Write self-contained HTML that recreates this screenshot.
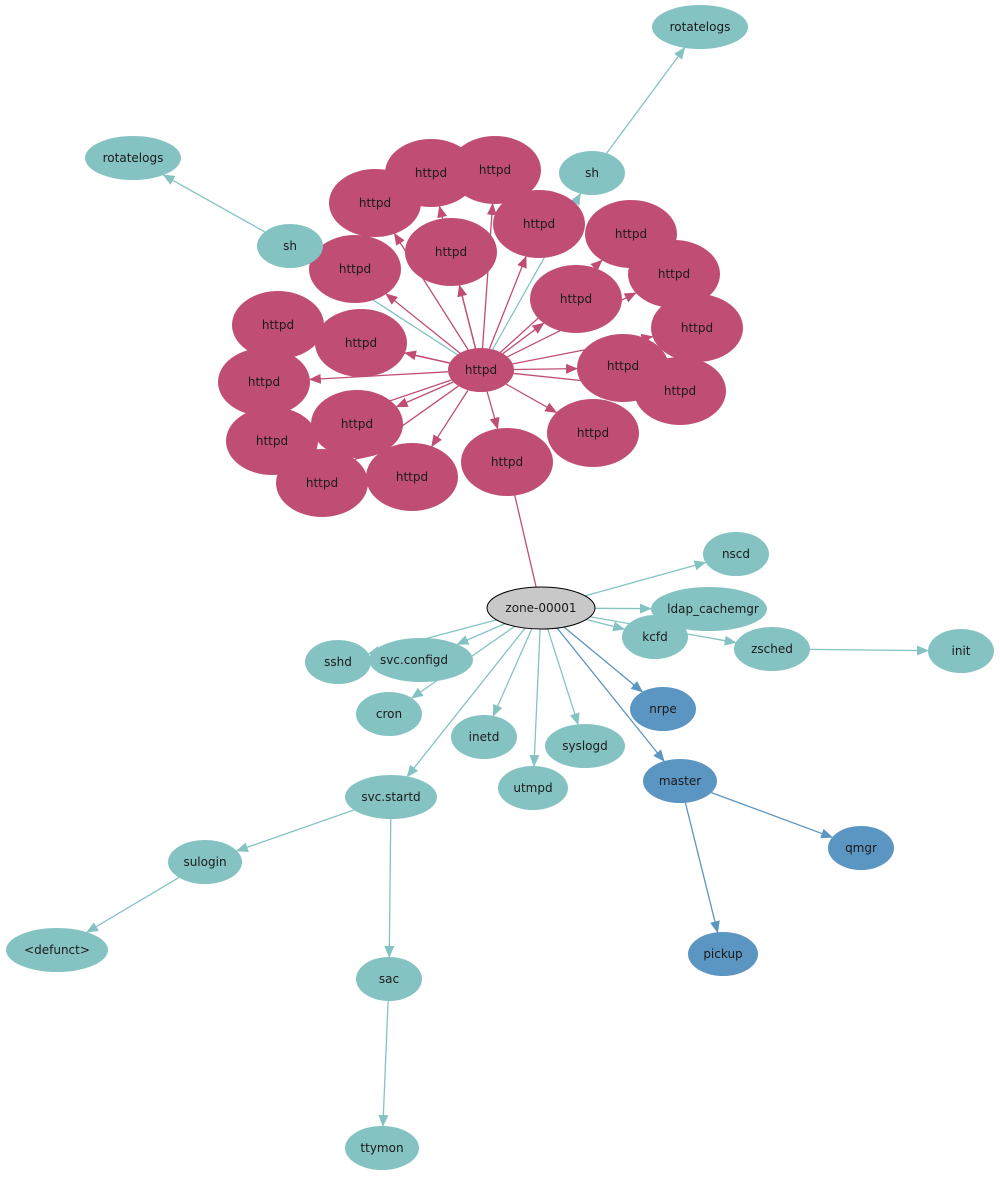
<!DOCTYPE html>
<html><head><meta charset="utf-8"><style>
body{margin:0;background:#fff}
svg text{font-family:"DejaVu Sans","Liberation Sans",sans-serif;font-size:12px;text-anchor:middle;dominant-baseline:central;fill:#1a1a1a}
</style></head><body>
<svg id="s" width="1000" height="1177" viewBox="0 0 1000 1177" xmlns="http://www.w3.org/2000/svg">
<defs>
<marker id="mt" markerWidth="12" markerHeight="10" refX="11" refY="5" orient="auto" markerUnits="userSpaceOnUse"><path d="M0,0 L12,5 L0,10 z" fill="#85c3c3"/></marker>
<marker id="mp" markerWidth="12" markerHeight="10" refX="11" refY="5" orient="auto" markerUnits="userSpaceOnUse"><path d="M0,0 L12,5 L0,10 z" fill="#c04e74"/></marker>
<marker id="mb" markerWidth="12" markerHeight="10" refX="11" refY="5" orient="auto" markerUnits="userSpaceOnUse"><path d="M0,0 L12,5 L0,10 z" fill="#5b95c2"/></marker>
</defs>
<g id="edges"></g>
<g id="nodes">
<g fill="#c04e74">
<ellipse cx="431" cy="173" rx="46" ry="34"/><text x="431" y="173">httpd</text>
<ellipse cx="495" cy="170" rx="46" ry="34"/><text x="495" y="170">httpd</text>
<ellipse cx="375" cy="203" rx="46" ry="34"/><text x="375" y="203">httpd</text>
<ellipse cx="539" cy="224" rx="46" ry="34"/><text x="539" y="224">httpd</text>
<ellipse cx="451" cy="252" rx="46" ry="34"/><text x="451" y="252">httpd</text>
<ellipse cx="631" cy="234" rx="46" ry="34"/><text x="631" y="234">httpd</text>
<ellipse cx="355" cy="269" rx="46" ry="34"/><text x="355" y="269">httpd</text>
<ellipse cx="674" cy="274" rx="46" ry="34"/><text x="674" y="274">httpd</text>
<ellipse cx="576" cy="299" rx="46" ry="34"/><text x="576" y="299">httpd</text>
<ellipse cx="278" cy="325" rx="46" ry="34"/><text x="278" y="325">httpd</text>
<ellipse cx="361" cy="343" rx="46" ry="34"/><text x="361" y="343">httpd</text>
<ellipse cx="697" cy="328" rx="46" ry="34"/><text x="697" y="328">httpd</text>
<ellipse cx="264" cy="382" rx="46" ry="34"/><text x="264" y="382">httpd</text>
<ellipse cx="680" cy="391" rx="46" ry="34"/><text x="680" y="391">httpd</text>
<ellipse cx="623" cy="368" rx="46" ry="34"/><text x="623" y="366">httpd</text>
<ellipse cx="272" cy="441" rx="46" ry="34"/><text x="272" y="441">httpd</text>
<ellipse cx="357" cy="424" rx="46" ry="34"/><text x="357" y="424">httpd</text>
<ellipse cx="593" cy="433" rx="46" ry="34"/><text x="593" y="433">httpd</text>
<ellipse cx="507" cy="462" rx="46" ry="34"/><text x="507" y="462">httpd</text>
<ellipse cx="322" cy="483" rx="46" ry="34"/><text x="322" y="483">httpd</text>
<ellipse cx="412" cy="477" rx="46" ry="34"/><text x="412" y="477">httpd</text>
<ellipse cx="481" cy="370" rx="33" ry="22"/><text x="481" y="370">httpd</text>
</g>
<g fill="#85c3c3">
<ellipse cx="700" cy="27" rx="48" ry="22"/><text x="700" y="27">rotatelogs</text>
<ellipse cx="133" cy="158" rx="48" ry="22"/><text x="133" y="158">rotatelogs</text>
<ellipse cx="592" cy="173" rx="33" ry="22"/><text x="592" y="173">sh</text>
<ellipse cx="290" cy="246" rx="33" ry="22"/><text x="290" y="246">sh</text>
<ellipse cx="736" cy="554" rx="33" ry="22"/><text x="736" y="554">nscd</text>
<ellipse cx="709" cy="609" rx="58" ry="22"/><text x="713" y="609">ldap_cachemgr</text>
<ellipse cx="655" cy="637" rx="33" ry="22"/><text x="655" y="637">kcfd</text>
<ellipse cx="772" cy="649" rx="38" ry="22"/><text x="772" y="649">zsched</text>
<ellipse cx="961" cy="651" rx="33" ry="22"/><text x="961" y="651">init</text>
<ellipse cx="338" cy="662" rx="33" ry="22"/><text x="338" y="662">sshd</text>
<ellipse cx="421" cy="660" rx="52" ry="22"/><text x="414" y="660">svc.configd</text>
<ellipse cx="389" cy="714" rx="33" ry="22"/><text x="389" y="714">cron</text>
<ellipse cx="484" cy="737" rx="33" ry="22"/><text x="484" y="737">inetd</text>
<ellipse cx="585" cy="746" rx="40" ry="22"/><text x="585" y="746">syslogd</text>
<ellipse cx="533" cy="788" rx="35" ry="22"/><text x="533" y="788">utmpd</text>
<ellipse cx="391" cy="797" rx="46" ry="22"/><text x="391" y="797">svc.startd</text>
<ellipse cx="205" cy="862" rx="37" ry="22"/><text x="205" y="862">sulogin</text>
<ellipse cx="57" cy="950" rx="51" ry="22"/><text x="57" y="950">&lt;defunct&gt;</text>
<ellipse cx="389" cy="979" rx="33" ry="22"/><text x="389" y="979">sac</text>
<ellipse cx="382" cy="1148" rx="37" ry="22"/><text x="382" y="1148">ttymon</text>
</g>
<g fill="#5b95c2">
<ellipse cx="663" cy="709" rx="33" ry="22"/><text x="663" y="709">nrpe</text>
<ellipse cx="680" cy="781" rx="37" ry="22"/><text x="680" y="781">master</text>
<ellipse cx="861" cy="848" rx="33" ry="22"/><text x="861" y="848">qmgr</text>
<ellipse cx="723" cy="954" rx="35" ry="22"/><text x="723" y="954">pickup</text>
</g>
<ellipse cx="541" cy="608" rx="54" ry="21" fill="#c8c8c8" stroke="#000" stroke-width="1"/><text x="541" y="608">zone-00001</text>
</g>
</svg>
<script>
var N={},g=document.getElementById('edges');
document.querySelectorAll('#nodes ellipse').forEach(function(e,i){});
function P(x,y,rx,ry){return {x:x,y:y,rx:rx,ry:ry};}
var H=[[431,173],[495,170],[375,203],[539,224],[451,252],[631,234],[355,269],[674,274],[576,299],[278,325],[361,343],[697,328],[264,382],[680,391],[623,368],[272,441],[357,424],[593,433],[507,462],[322,483],[412,477]];
var C=P(481,370,33,22),Z=P(541,608,54,21);
function clip(a,b){var dx=b.x-a.x,dy=b.y-a.y,t=1/Math.sqrt(dx*dx/(a.rx*a.rx)+dy*dy/(a.ry*a.ry));return [a.x+dx*t,a.y+dy*t];}
function E(a,b,col,m){var s=clip(a,b),t=clip(b,a);var l=document.createElementNS('http://www.w3.org/2000/svg','line');l.setAttribute('x1',s[0]);l.setAttribute('y1',s[1]);l.setAttribute('x2',t[0]);l.setAttribute('y2',t[1]);l.setAttribute('stroke',col);l.setAttribute('stroke-width','1.3');if(m)l.setAttribute('marker-end','url(#'+m+')');g.appendChild(l);}
var pk='#c04e74',tl='#85c3c3',bl='#5b95c2';
H.forEach(function(h){E(C,P(h[0],h[1],46,34),pk,'mp');});
E(P(507,462,46,34),Z,pk,null);
E(C,P(592,173,33,22),tl,'mt');E(C,P(290,246,33,22),tl,'mt');
E(P(592,173,33,22),P(700,27,48,22),tl,'mt');E(P(290,246,33,22),P(133,158,48,22),tl,'mt');
[[736,554,33],[709,609,58],[655,637,33],[772,649,38],[338,662,33],[421,660,52],[389,714,33],[484,737,33],[585,746,40],[533,788,35],[391,797,46]].forEach(function(n){E(Z,P(n[0],n[1],n[2],22),tl,'mt');});
E(Z,P(663,709,33,22),bl,'mb');E(Z,P(680,781,37,22),bl,'mb');
E(P(772,649,38,22),P(961,651,33,22),tl,'mt');
E(P(680,781,37,22),P(861,848,33,22),bl,'mb');E(P(680,781,37,22),P(723,954,35,22),bl,'mb');
var S=P(391,797,46,22);E(S,P(205,862,37,22),tl,'mt');E(S,P(389,979,33,22),tl,'mt');
E(P(205,862,37,22),P(57,950,51,22),tl,'mt');E(P(389,979,33,22),P(382,1148,37,22),tl,'mt');
</script>
</body></html>
